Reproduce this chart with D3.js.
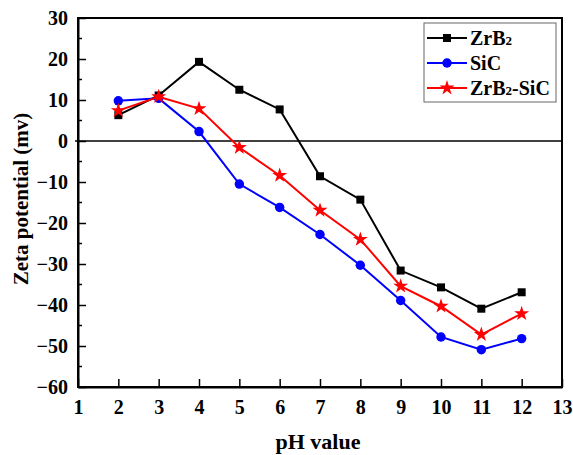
<!DOCTYPE html>
<html>
<head>
<meta charset="utf-8">
<script src="https://cdn.jsdelivr.net/npm/d3@7"></script>
<style>
  body { margin: 0; background: #fff; }
  text { font-family: "Liberation Serif", "Times New Roman", serif; font-weight: bold; }
</style>
</head>
<body>
<div id="container"></div>
<script>
/* DATA */
const pH = [2, 3, 4, 5, 6, 7, 8, 9, 10, 11, 12];
const zrb2 = [6.3, 11.1, 19.3, 12.5, 7.7, -8.6, -14.3, -31.6, -35.7, -40.9, -36.9];
const sic = [9.8, 10.4, 2.3, -10.5, -16.2, -22.8, -30.3, -38.9, -47.8, -50.9, -48.2];
const zrb2sic = [7.4, 10.8, 7.9, -1.6, -8.4, -16.9, -24.0, -35.4, -40.3, -47.2, -42.1];
const xTicks = [1, 2, 3, 4, 5, 6, 7, 8, 9, 10, 11, 12, 13];
const yTicks = [30, 20, 10, 0, -10, -20, -30, -40, -50, -60];
const yMinor = [25, 15, 5, -5, -15, -25, -35, -45, -55];

/* CONSTANTS */
const width = 573,
  height = 455,
  margin = { top: 18, bottom: 68, left: 78, right: 11 };

const svg = d3.select("#container")
  .append("svg")
  .attr("width", width)
  .attr("height", height)
  .style("background-color", "white");

/* SCALES */
const xScale = d3.scaleLinear()
  .domain([1, 13])
  .range([margin.left, width - margin.right]);

const yScale = d3.scaleLinear()
  .domain([-60, 30])
  .range([height - margin.bottom, margin.top]);

// frame
svg.append("rect")
  .attr("x", margin.left)
  .attr("y", margin.top)
  .attr("width", xScale(13) - margin.left)
  .attr("height", yScale(-60) - margin.top)
  .attr("fill", "none")
  .attr("stroke", "black")
  .attr("stroke-width", 2);

// zero line
svg.append("line")
  .attr("x1", margin.left - 3)
  .attr("x2", xScale(13))
  .attr("y1", yScale(0))
  .attr("y2", yScale(0))
  .attr("stroke", "black")
  .attr("stroke-width", 1.5);

/* AXES */
const xAxis = d3.axisBottom(xScale)
  .tickValues(xTicks)
  .tickSizeInner(-8)
  .tickSizeOuter(0)
  .tickPadding(13);

svg.append("g")
  .attr("transform", `translate(0,${yScale(-60)})`)
  .call(xAxis)
  .call(g => g.select(".domain").attr("stroke-width", 2))
  .call(g => g.selectAll(".tick line").attr("stroke-width", 1.5))
  .call(g => g.selectAll(".tick text").attr("font-size", 20));

const yAxis = d3.axisLeft(yScale)
  .tickValues(yTicks)
  .tickSizeInner(-8)
  .tickSizeOuter(0)
  .tickPadding(10);

svg.append("g")
  .attr("transform", `translate(${margin.left},0)`)
  .call(yAxis)
  .call(g => g.select(".domain").attr("stroke-width", 2))
  .call(g => g.selectAll(".tick line").attr("stroke-width", 1.5))
  .call(g => g.selectAll(".tick text").attr("font-size", 20));

// minor ticks
svg.append("g")
  .selectAll("line")
  .data(yMinor)
  .enter()
  .append("line")
  .attr("x1", margin.left)
  .attr("x2", margin.left + 4)
  .attr("y1", d => yScale(d))
  .attr("y2", d => yScale(d))
  .attr("stroke", "black")
  .attr("stroke-width", 1.5);

/* LINES */
const series = [
  { name: "ZrB2", values: zrb2, color: "black", shape: d3.symbolSquare, size: 64 },
  { name: "SiC", values: sic, color: "blue", shape: d3.symbolCircle, size: 70 },
  { name: "ZrB2-SiC", values: zrb2sic, color: "red", shape: d3.symbolStar, size: 70 }
];

const line = d3.line()
  .x(d => xScale(d[0]))
  .y(d => yScale(d[1]));

series.forEach(s => {
  const pts = pH.map((p, i) => [p, s.values[i]]);
  svg.append("path")
    .datum(pts)
    .attr("d", line)
    .attr("fill", "none")
    .attr("stroke", s.color)
    .attr("stroke-width", 2);
  svg.append("g")
    .selectAll("path")
    .data(pts)
    .enter()
    .append("path")
    .attr("d", d3.symbol().type(s.shape).size(s.size))
    .attr("transform", d => `translate(${xScale(d[0])},${yScale(d[1])})`)
    .attr("fill", s.color);
});

/* LEGEND */
const lg = svg.append("g").attr("transform", "translate(424,23)");
lg.append("rect")
  .attr("width", 132)
  .attr("height", 79)
  .attr("fill", "white")
  .attr("stroke", "#666")
  .attr("stroke-width", 1);

series.forEach((s, i) => {
  const y = 15 + i * 25;
  lg.append("line")
    .attr("x1", 3).attr("x2", 43)
    .attr("y1", y).attr("y2", y)
    .attr("stroke", s.color)
    .attr("stroke-width", 2);
  lg.append("path")
    .attr("d", d3.symbol().type(s.shape).size(s.size))
    .attr("transform", `translate(23,${y})`)
    .attr("fill", s.color);
  const t = lg.append("text")
    .attr("x", 46)
    .attr("y", y + 7)
    .attr("font-size", 20);
  if (s.name.startsWith("ZrB2")) {
    t.append("tspan").text("ZrB");
    t.append("tspan").attr("font-size", 13).text("2");
    t.append("tspan").text(s.name.slice(4));
  } else {
    t.text(s.name);
  }
});

/* AXIS TITLES */
svg.append("text")
  .attr("x", xScale(7) - 2)
  .attr("y", 449)
  .attr("text-anchor", "middle")
  .attr("font-size", 22)
  .text("pH value");

svg.append("text")
  .attr("transform", "translate(28,199) rotate(-90)")
  .attr("text-anchor", "middle")
  .attr("font-size", 21)
  .text("Zeta potential (mv)");
</script>
</body>
</html>
